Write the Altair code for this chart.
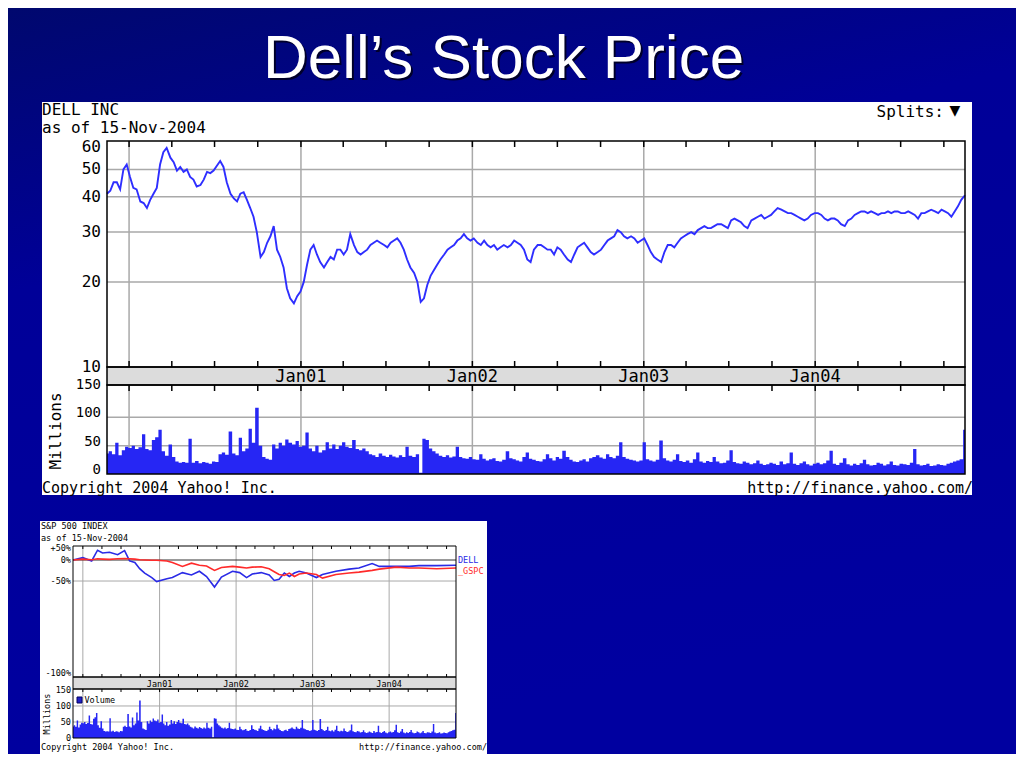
import altair as alt
import pandas as pd

# ---------------- data ----------------
price_values = [
    41, 42, 45, 45, 42.5, 50, 52, 47, 43, 42.5,
    38.5, 38, 36.5, 39, 41, 43, 52, 57.5, 59.5, 55,
    53, 49.5, 51, 49, 50, 47, 46, 43.5, 44, 46,
    49, 48.5, 49.5, 51.5, 53.5, 51, 45, 41, 39.5, 38.5,
    41, 41.5, 39, 36.5, 34, 30, 24.5, 25.5, 27.5, 29,
    31.5, 26, 24.5, 22.5, 19, 17.5, 16.8, 17.8, 18.5, 20,
    23, 26, 27, 25, 23.5, 22.5, 23.5, 24.5, 24, 26,
    26, 25, 26, 29.5, 27, 25.5, 25, 25.5, 26,
    27, 27.5, 28, 27.5, 27, 26.5, 27.5, 28, 28.5, 27.5,
    26, 24, 22.5, 21.5, 20, 17, 17.5, 19.5, 21, 22,
    23, 24, 25, 26, 26.5, 27, 28, 28.5, 29.5, 28.5,
    28, 28.5, 27.5, 27, 28, 27, 26.5, 27, 26, 26.5,
    27, 26.5, 27, 28, 27.5, 27, 26, 24, 23.5, 26,
    27, 27, 26.5, 26, 26, 25, 26.5, 26, 25, 24,
    23.5, 25, 26.5, 27, 27.5, 26.5, 25.5, 25, 25.5, 26,
    27, 28, 28.5, 29, 30.5, 30, 29, 28.5, 29, 28.5,
    27.5,
    28, 28.5, 27, 25.5, 24.5, 24, 23.5, 25.5, 27, 27,
    26.5, 27.5, 28.5, 29, 29.5, 30, 29.5, 30.5, 31, 31.5,
    31, 31, 31.5, 32, 32, 31.5, 31, 33, 33.5, 33,
    32.5, 31.5, 31, 33, 33.5, 34, 34.5, 33.5, 34, 34.5,
    35.5, 36.5, 36, 35.5, 35, 35, 34.5, 34, 33.5, 33,
    33.5, 34.5, 35, 35, 34.5, 33.5, 33, 33.5, 33.5, 33,
    32, 31.5, 33, 33.5, 34.5, 35, 35.5, 35.5, 35, 35.5,
    35, 34.5, 35, 35, 35.5, 35, 35.5, 35.5, 35, 35,
    35.5, 35, 34.5, 33.5, 35, 35, 35.5, 36, 35.5, 35,
    36, 35.5, 35, 34, 35.5, 37, 39, 40.5,
]
volume_values = [
    36, 40, 35, 55, 33, 42, 48, 46, 50, 44,
    47, 70, 44, 42, 60, 65, 78, 40, 32, 52,
    30, 22, 20, 21, 20, 62, 20, 23, 19, 21,
    20, 18, 22, 21, 35, 38, 34, 75, 36, 33,
    64, 40, 45, 80, 55, 117, 50, 30, 27, 25,
    52, 45, 55, 50, 61, 55, 52, 58, 48, 50,
    73, 45, 40, 50, 38, 42, 56, 45, 52, 44,
    50, 56, 48, 46, 60, 44, 42, 45, 40,
    35, 33, 30, 36, 32, 30, 34, 31, 29, 33,
    30, 48, 32, 30, 35, 2, 62, 60, 45, 40,
    36, 32, 30, 33, 29, 31, 48, 30, 28, 27,
    30, 26, 25, 35, 27, 24, 26, 28, 23, 22,
    25, 40, 28, 26, 24, 22, 30, 38, 27, 25,
    23, 22, 26, 35, 28, 24, 30, 27, 41, 30,
    25, 22, 21, 24, 26, 22, 28, 30, 33, 29,
    27, 35, 30, 28, 32, 56, 30, 27, 25, 24,
    22,
    24, 56, 26, 24, 22, 25, 59, 28, 24, 22,
    25, 35, 23, 21, 24, 20, 26, 38, 22, 20,
    23, 21, 30, 22, 19, 20, 24, 42, 21, 19,
    18, 22, 20, 17, 19, 24, 18, 16, 17, 20,
    18, 16, 22, 17, 19, 38, 18, 16, 19, 22,
    17, 15, 18, 20, 17, 19, 24, 41, 18, 16,
    20, 28, 17, 15, 18, 16, 19, 25, 17, 15,
    16, 20, 18, 15, 17, 22, 16, 15, 18, 17,
    16, 20, 44, 17, 15, 16, 18, 14, 15, 17,
    16, 15, 18, 20, 22, 24, 26, 78,
]
cmp_dates = [
    "1999-11-15", "2000-01-01", "2000-02-12", "2000-03-11", "2000-04-04", "2000-05-07",
    "2000-06-15", "2000-07-18", "2000-08-11", "2000-09-05", "2000-09-28", "2000-10-22",
    "2000-11-25", "2000-12-18", "2001-02-05", "2001-03-03", "2001-04-20", "2001-06-02",
    "2001-07-10", "2001-08-13", "2001-09-20", "2001-10-23", "2001-12-15", "2002-01-18",
    "2002-02-20", "2002-03-19", "2002-05-01", "2002-06-08", "2002-07-02", "2002-07-25",
    "2002-08-19", "2002-09-12", "2002-10-06", "2002-10-29", "2002-12-02", "2003-01-19",
    "2003-02-17", "2003-04-22", "2003-06-24", "2003-08-10", "2003-10-12", "2003-11-15",
    "2004-02-04", "2004-04-06", "2004-05-22", "2004-08-15", "2004-11-15",
]
dell_pct = [0, 8, -3, 38, 26, 29, 19, 36, -3, -8,
            -25, -35, -44, -51, -46, -44, -34, -39, -31, -42,
            -59, -43, -31, -34, -44, -37, -34, -39, -49, -47,
            -35, -42, -35, -31, -35, -44, -38, -31, -26, -23,
            -11, -19, -19, -19, -17, -17, -16]
gspc_pct = [0, 3, 1, 4, 3, 2, 4, 5, 4, 3,
            1, 0, -1, -1, -3, -8, -19, -10, -16, -18,
            -29, -22, -19, -21, -23, -21, -20, -25, -32, -38,
            -40, -35, -42, -37, -35, -38, -45, -38, -35, -33,
            -29, -26, -21, -23, -23, -25, -23]

price_ticks = [10, 20, 30, 40, 50, 60]
price_tick_labels = ["10", "20", "30", "40", "50", "60"]
price_grid = [20, 30, 40, 50]
vol_ticks = [0, 50, 100, 150]
vol_tick_labels = ["0", "50", "100", "150"]
vol_grid = [50, 100]
year_lines = ["2000-01-01", "2001-01-01", "2002-01-01", "2003-01-01", "2004-01-01"]
year_label_dates = ["2001-01-01", "2002-01-01", "2003-01-01", "2004-01-01"]
year_labels = ["Jan01", "Jan02", "Jan03", "Jan04"]
pct_ticks = [1.5, 1.0, 0.5]
pct_tick_labels = ["+50%", "0%", "-50%"]

# ---------------- tables ----------------
price_df = pd.DataFrame({
    "date": pd.date_range("1999-11-15", "2004-11-15", periods=len(price_values)).floor("D"),
    "price": price_values,
    "volume": volume_values,
})
cmp_df = pd.DataFrame({
    "date": pd.to_datetime(cmp_dates * 2),
    "ratio": [1 + p / 100 for p in dell_pct] + [1 + p / 100 for p in gspc_pct],
    "series": ["DELL"] * len(dell_pct) + ["_GSPC"] * len(gspc_pct),
})
year_df = pd.DataFrame({"date": pd.to_datetime(year_lines)})
ylab_df = pd.DataFrame({"date": pd.to_datetime(year_label_dates), "label": year_labels})
quarter_df = pd.DataFrame({"date": pd.date_range("2000-01-01", "2004-10-01", freq="QS")})
ptick_df = pd.DataFrame({"v": price_ticks, "label": price_tick_labels})
pgrid_df = pd.DataFrame({"v": price_grid})
vtick_df = pd.DataFrame({"v": vol_ticks, "label": vol_tick_labels})
vgrid_df = pd.DataFrame({"v": vol_grid})
pct_df = pd.DataFrame({"v": pct_ticks, "label": pct_tick_labels})
one = pd.DataFrame({"k": [0]})

# ---------------- layout ----------------
W, H = 1008, 746
OFF = 8
def X(p):
    return p - OFF
def Y(p):
    return p - OFF

MONO = "DejaVu Sans Mono"
SANS = "Liberation Sans"
GRID = "#a9a9a9"
BANDC = "#dcdcdc"
LINE_BLUE = "#2e2eff"
VOL_BLUE = "#2626f4"

START = alt.DateTime(year=1999, month=11, date=15)
END = alt.DateTime(year=2004, month=11, date=15)

# top chart geometry (page px)
TX0, TX1 = 107, 965
PY0, PY1 = 141, 367
BY1 = 385
VY0, VY1 = 385, 474
# bottom chart geometry
SX0, SX1 = 73, 456
QY0, QY1 = 546, 677
SB1 = 689
WV0, WV1 = 689, 738

x_top = alt.Scale(domain=[START, END], range=[X(TX0), X(TX1)], nice=False)
y_price = alt.Scale(type="log", domain=[10, 63], range=[Y(PY1), Y(PY0)], nice=False)
y_vol = alt.Scale(domain=[0, 157], range=[Y(VY1), Y(VY0)], nice=False, zero=True)
x_bot = alt.Scale(domain=[START, END], range=[X(SX0), X(SX1)], nice=False)
y_pct = alt.Scale(type="log", domain=[0.0211, 1.587], range=[Y(QY1), Y(QY0)], nice=False)
y_bvol = alt.Scale(domain=[0, 153], range=[Y(WV1), Y(WV0)], nice=False, zero=True)


def box(x0, x1, y0, y1, fill="white", opacity=1.0, stroke="black", sw=0.0):
    return alt.Chart(one).mark_rect(
        fill=fill, fillOpacity=opacity, stroke=stroke, strokeWidth=sw
    ).encode(x=alt.value(X(x0)), x2=alt.value(X(x1)), y=alt.value(Y(y0)), y2=alt.value(Y(y1)))


def label(text, x, y, size, align="left", color="black", font=MONO, angle=0, baseline="middle"):
    mk = dict(font=font, fontSize=size, color=color, align=align, baseline=baseline)
    if angle:
        mk["angle"] = angle
    return alt.Chart(pd.DataFrame({"t": [text]})).mark_text(**mk).encode(
        x=alt.value(X(x)), y=alt.value(Y(y)), text="t:N")


def vlines(df, xs, y0, y1, color=GRID, sw=1.5):
    return alt.Chart(df).mark_rule(color=color, strokeWidth=sw).encode(
        x=alt.X("date:T", scale=xs, axis=None), y=alt.value(Y(y0)), y2=alt.value(Y(y1)))


def hlines(df, ys, x0, x1, color=GRID, sw=1.5):
    return alt.Chart(df).mark_rule(color=color, strokeWidth=sw).encode(
        y=alt.Y("v:Q", scale=ys, axis=None), x=alt.value(X(x0)), x2=alt.value(X(x1)))


def ylabels(df, ys, x, size, dy=0):
    return alt.Chart(df).mark_text(font=MONO, fontSize=size, color="black", align="right",
                                   baseline="middle", dy=dy).encode(
        y=alt.Y("v:Q", scale=ys, axis=None), x=alt.value(X(x)), text="label:N")


L = []
# slide background
L.append(alt.Chart(one).mark_rect(
    fill=alt.Gradient(gradient="linear", x1=0, y1=0, x2=0.3, y2=1, stops=[
        alt.GradientStop(color="#00086e", offset=0),
        alt.GradientStop(color="#000098", offset=0.35),
        alt.GradientStop(color="#0000a0", offset=1)])
).encode(x=alt.value(0), x2=alt.value(W), y=alt.value(0), y2=alt.value(H)))

# title
L.append(label("Dell\u2019s Stock Price", 505.5, 80, 62, align="center", color="#00002a", font=SANS, baseline="alphabetic"))
L.append(label("Dell\u2019s Stock Price", 503.5, 78, 62, align="center", color="white", font=SANS, baseline="alphabetic"))

# ================= top chart =================
L.append(box(42, 972, 102, 495))
L.append(hlines(pgrid_df, y_price, TX0, TX1))
L.append(vlines(year_df, x_top, PY0, PY1))
L.append(vlines(year_df, x_top, VY0, VY1))
L.append(hlines(vgrid_df, y_vol, TX0, TX1))
L.append(alt.Chart(price_df).mark_area(color=VOL_BLUE, interpolate="step").encode(
    x=alt.X("date:T", scale=x_top, axis=None), y=alt.Y("volume:Q", scale=y_vol, axis=None)))
L.append(alt.Chart(price_df).mark_line(color=LINE_BLUE, strokeWidth=1.9).encode(
    x=alt.X("date:T", scale=x_top, axis=None), y=alt.Y("price:Q", scale=y_price, axis=None)))
L.append(box(TX0, TX1, PY1, BY1, fill=BANDC, sw=1.5))
L.append(box(TX0, TX1, PY0, PY1, fill="white", opacity=0, sw=1.5))
L.append(box(TX0, TX1, VY0, VY1, fill="white", opacity=0, sw=1.5))
L.append(vlines(quarter_df, x_top, PY0, PY0 + 6, color="black"))
L.append(vlines(quarter_df, x_top, PY1 - 6, PY1, color="black"))
L.append(vlines(quarter_df, x_top, VY0, VY0 + 6, color="black"))
L.append(alt.Chart(ylab_df).mark_text(font=MONO, fontSize=17, color="black", align="center", baseline="middle").encode(
    x=alt.X("date:T", scale=x_top, axis=None), y=alt.value(Y(376.5)), text="label:N"))
L.append(ylabels(ptick_df, y_price, 101, 16))
L.append(ylabels(vtick_df, y_vol, 101, 14, dy=-4))
L.append(label("Millions", 56, 431, 16, align="center", angle=270))
L.append(label("DELL INC", 42, 110, 16))
L.append(label("as of 15-Nov-2004", 42, 127.5, 16))
L.append(label("Splits:", 944, 112, 16, align="right"))
L.append(label("\u25BC", 955, 111, 14, align="center", font="DejaVu Sans"))
L.append(label("Copyright 2004 Yahoo! Inc.", 42, 488, 15))
L.append(label("http://finance.yahoo.com/", 973, 488, 15, align="right"))

# ================= bottom chart =================
L.append(box(40, 487, 521, 754))
L.append(vlines(year_df, x_bot, QY0, QY1, sw=1))
L.append(vlines(year_df, x_bot, WV0, WV1, sw=1))
L.append(hlines(pd.DataFrame({"v": [0.5]}), y_pct, SX0, SX1, sw=1))
L.append(hlines(pd.DataFrame({"v": [50, 100]}), y_bvol, SX0, SX1, sw=1))
L.append(hlines(pd.DataFrame({"v": [1.0]}), y_pct, SX0, SX1, color="#333333", sw=1))
L.append(alt.Chart(cmp_df).mark_line(strokeWidth=1.6).encode(
    x=alt.X("date:T", scale=x_bot, axis=None),
    y=alt.Y("ratio:Q", scale=y_pct, axis=None),
    color=alt.Color("series:N", scale=alt.Scale(domain=["DELL", "_GSPC"], range=["#2a2ae6", "#ff2a2a"]), legend=None),
    order=alt.Order("series:N", sort="descending")))
L.append(alt.Chart(price_df).mark_area(color=VOL_BLUE, interpolate="step").encode(
    x=alt.X("date:T", scale=x_bot, axis=None), y=alt.Y("volume:Q", scale=y_bvol, axis=None)))
L.append(box(SX0, SX1, QY1, SB1, fill=BANDC, sw=1))
L.append(box(SX0, SX1, QY0, QY1, fill="white", opacity=0, sw=1))
L.append(box(SX0, SX1, WV0, WV1, fill="white", opacity=0, sw=1))
L.append(vlines(quarter_df, x_bot, QY0, QY0 + 3, color="black", sw=1))
L.append(vlines(quarter_df, x_bot, QY1 - 3, QY1, color="black", sw=1))
L.append(vlines(quarter_df, x_bot, WV0, WV0 + 3, color="black", sw=1))
L.append(alt.Chart(ylab_df).mark_text(font=MONO, fontSize=8.5, color="black", align="center", baseline="middle").encode(
    x=alt.X("date:T", scale=x_bot, axis=None), y=alt.value(Y(683.5)), text="label:N"))
L.append(ylabels(pct_df, y_pct, 71, 8.5))
L.append(label("-100%", 71, 673, 8.5, align="right"))
L.append(ylabels(vtick_df, y_bvol, 71, 8.5))
L.append(label("Millions", 47, 714, 8.5, align="center", angle=270))
L.append(box(77, 82, 697, 703, fill="#2020c8", stroke="#000060", sw=1))
L.append(label("Volume", 84.5, 700, 8.5))
L.append(label("DELL", 458, 560, 8.5, color="#2a2ae6"))
L.append(label("_GSPC", 458, 571, 8.5, color="#ff2a2a"))
L.append(label("S&P 500 INDEX", 41, 526, 8.5))
L.append(label("as of 15-Nov-2004", 41, 538, 8.5))
L.append(label("Copyright 2004 Yahoo! Inc.", 41, 747, 8.5))
L.append(label("http://finance.yahoo.com/", 487, 747, 8.5, align="right"))

chart = alt.layer(*L).resolve_scale(
    x="independent", y="independent", color="independent"
).properties(
    width=W, height=H, padding=0,
    autosize=alt.AutoSizeParams(type="none"),
    background="#0000a0",
).configure_view(strokeWidth=0)

chart.save("out.html", embed_options={"renderer": "svg", "actions": False})
